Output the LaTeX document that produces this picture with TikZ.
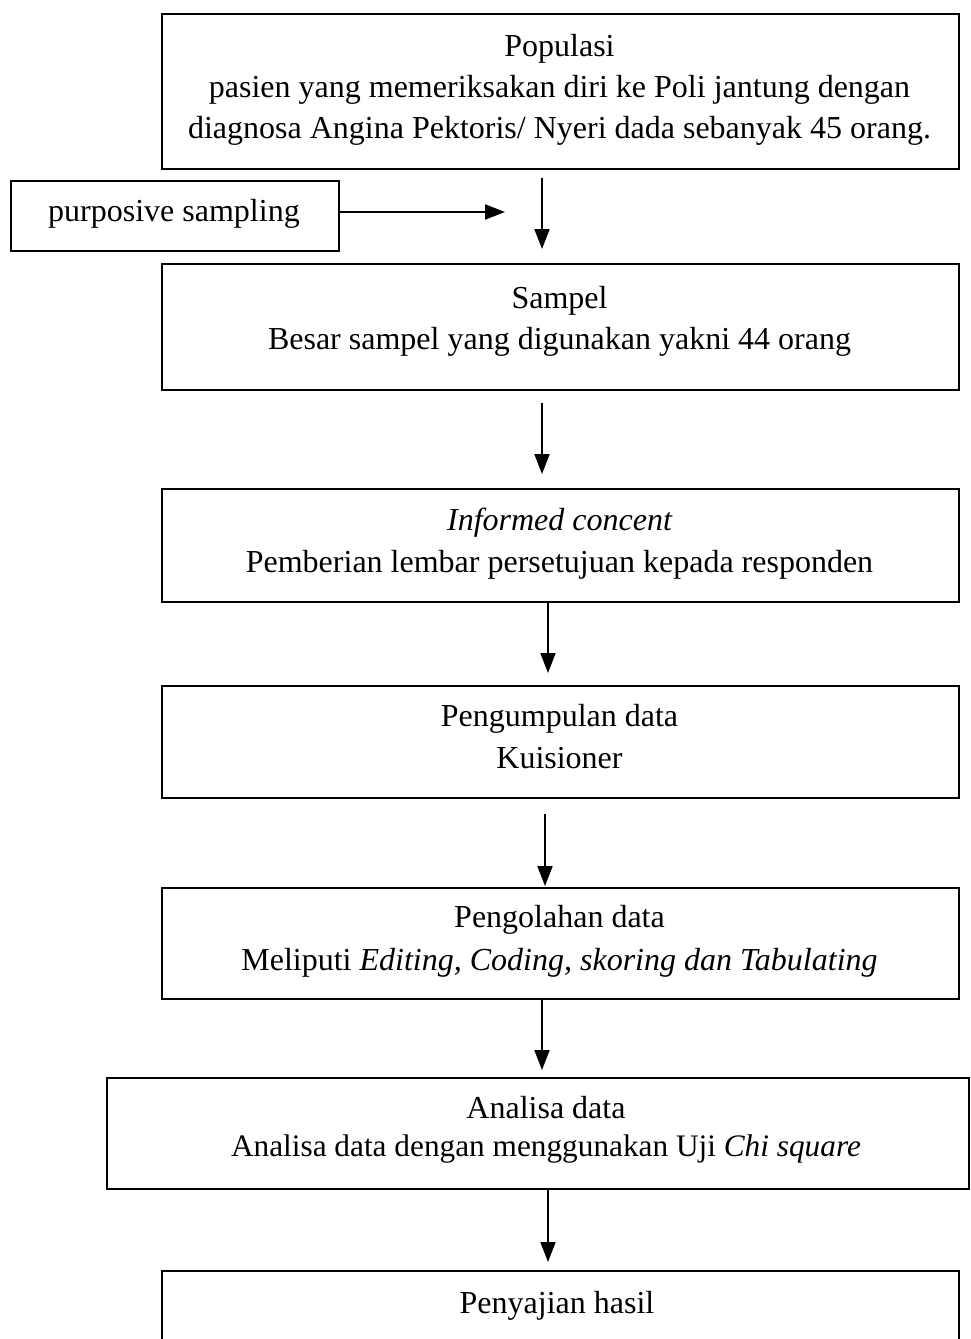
\documentclass[tikz,border=0pt]{standalone}
\usepackage{fontspec}
\setmainfont{Liberation Serif}
\usetikzlibrary{arrows.meta}
\begin{document}
\begin{tikzpicture}[x=1pt,y=-1pt,
  box/.style={draw, line width=2pt, inner sep=0pt, anchor=north west},
  txt/.style={anchor=base, inner sep=0pt, font=\fontsize{32}{41}\selectfont},
  arr/.style={line width=2pt, -{Triangle[length=20pt,width=15pt]}}]
\useasboundingbox (0,0) rectangle (970,1339);
% boxes
\node[box, minimum width=797pt, minimum height=155pt] (pop) at (161,13) {};
\node[box, minimum width=328pt, minimum height=70pt] (ps) at (10,180) {};
\node[box, minimum width=797pt, minimum height=126pt] (sam) at (161,263) {};
\node[box, minimum width=797pt, minimum height=113pt] (inf) at (161,488) {};
\node[box, minimum width=797pt, minimum height=112pt] (kum) at (161,685) {};
\node[box, minimum width=797pt, minimum height=111pt] (olah) at (161,887) {};
\node[box, minimum width=862pt, minimum height=111pt] (ana) at (106,1077) {};
\node[box, minimum width=797pt, minimum height=120pt] (saji) at (161,1270) {};
% texts
\node[txt] (t1a) at (559.5,56) {Populasi};
\node[txt] (t1b) at (559.5,97) {pasien yang memeriksakan diri ke Poli jantung dengan};
\node[txt] (t1c) at (559.5,138) {diagnosa Angina Pektoris/ Nyeri dada sebanyak 45 orang.};
\node[txt] (tps) at (174,221) {purposive sampling};
\node[txt] (t2a) at (559.5,308) {Sampel};
\node[txt] (t2b) at (559.5,349) {Besar sampel yang digunakan yakni 44 orang};
\node[txt] (t3a) at (559.5,530) {\itshape Informed concent};
\node[txt] (t3b) at (559.5,572) {Pemberian lembar persetujuan kepada responden};
\node[txt] (t4a) at (559.5,726) {Pengumpulan data};
\node[txt] (t4b) at (559.5,768) {Kuisioner};
\node[txt] (t5a) at (559.5,927) {Pengolahan data};
\node[txt] (t5b) at (559.5,970) {Meliputi \textit{Editing, Coding, skoring dan Tabulating}};
\node[txt] (t6a) at (546,1118) {Analisa data};
\node[txt, font=\fontsize{31.3}{41}\selectfont] (t6b) at (546,1156) {Analisa data dengan menggunakan Uji \textit{Chi square}};
\node[txt] (t7a) at (557,1313) {Penyajian hasil};
% arrows
\coordinate (pe) at (505,212);
\draw[arr] (ps.east |- pe) -- (pe);
\coordinate (a1s) at (542,178); \coordinate (a1e) at (542,249);
\coordinate (a2s) at (542,403); \coordinate (a2e) at (542,474);
\coordinate (a3s) at (548,602); \coordinate (a3e) at (548,673);
\coordinate (a4s) at (545,814); \coordinate (a4e) at (545,886);
\coordinate (a5s) at (542,999); \coordinate (a5e) at (542,1070);
\coordinate (a6s) at (548,1189); \coordinate (a6e) at (548,1262);
\draw[arr] (a1s) -- (a1e);
\draw[arr] (a2s) -- (a2e);
\draw[arr] (a3s) -- (a3e);
\draw[arr] (a4s) -- (a4e);
\draw[arr] (a5s) -- (a5e);
\draw[arr] (a6s) -- (a6e);
\end{tikzpicture}
\end{document}
